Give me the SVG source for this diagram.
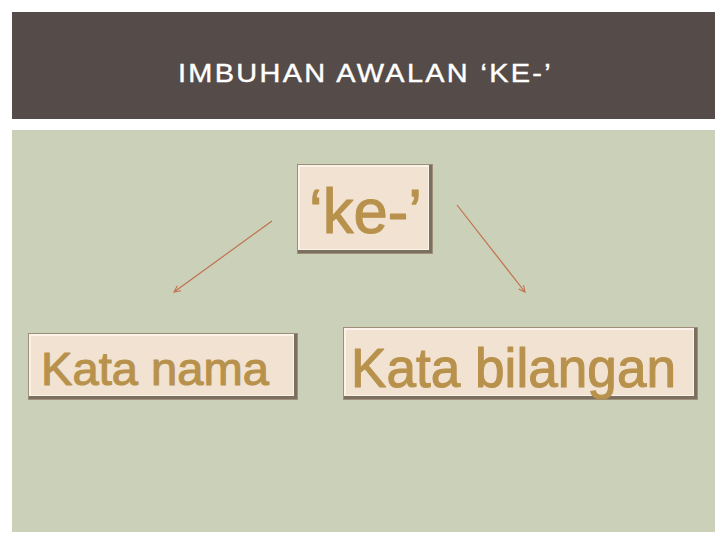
<svg xmlns="http://www.w3.org/2000/svg" width="728" height="546" viewBox="0 0 728 546">
<defs>
<style>
.lbl{font-family:"Liberation Sans","Arial",sans-serif;fill:#b8924c;stroke:#b8924c;stroke-width:1.1;stroke-linejoin:round;}
.face{fill:#f1e2d1;}
.hi{fill:#fbf3e9;}
.sh{fill:#7b705f;}
.edge{fill:none;stroke:#9d8f78;stroke-width:1;}
.conn{stroke:#c0714f;stroke-width:1.2;fill:none;marker-end:url(#ah);}
</style>
<marker id="ah" viewBox="0 0 10 10" refX="9" refY="5" markerWidth="8" markerHeight="8" orient="auto" markerUnits="userSpaceOnUse">
<path d="M1,1 L9,5 L1,9" fill="none" stroke="#c0714f" stroke-width="1.3"/>
</marker>
</defs>
<rect x="0" y="0" width="728" height="546" fill="#ffffff"/>
<g id="header">
<rect x="12" y="12" width="703" height="107" fill="#554b48"/>
<text x="178" y="82" font-family="'Liberation Sans',Arial,sans-serif" font-size="25" textLength="375" lengthAdjust="spacingAndGlyphs" letter-spacing="2" fill="#ffffff" stroke="#ffffff" stroke-width="0.4">IMBUHAN AWALAN ‘KE-’</text>
</g>
<rect id="body" x="12" y="130" width="703" height="402" fill="#cbd0b8"/>
<g id="connectors">
<line class="conn" x1="272" y1="221" x2="174" y2="292"/>
<line class="conn" x1="457" y1="205" x2="525" y2="292"/>
</g>
<g id="node-ke">
<rect class="sh" x="297" y="164" width="136" height="90"/>
<rect class="hi" x="297" y="164" width="132" height="86"/>
<rect class="face" x="300" y="167" width="128" height="82"/>
<rect class="edge" x="297.5" y="164.5" width="135" height="89"/>
<text class="lbl" x="309" y="233" font-size="63" textLength="113" lengthAdjust="spacingAndGlyphs">‘ke-’</text>
</g>
<g id="node-kata-nama">
<rect class="sh" x="28" y="333" width="270" height="67"/>
<rect class="hi" x="28" y="333" width="266" height="63"/>
<rect class="face" x="31" y="336" width="262" height="59"/>
<rect class="edge" x="28.5" y="333.5" width="269" height="66"/>
<text class="lbl" x="41" y="385" font-size="46" textLength="228" lengthAdjust="spacingAndGlyphs">Kata nama</text>
</g>
<g id="node-kata-bilangan">
<rect class="sh" x="343" y="327" width="355" height="73"/>
<rect class="hi" x="343" y="327" width="351" height="69"/>
<rect class="face" x="346" y="330" width="347" height="65"/>
<rect class="edge" x="343.5" y="327.5" width="354" height="72"/>
<text class="lbl" x="351" y="387" font-size="55" textLength="325" lengthAdjust="spacingAndGlyphs">Kata bilangan</text>
</g>
</svg>
